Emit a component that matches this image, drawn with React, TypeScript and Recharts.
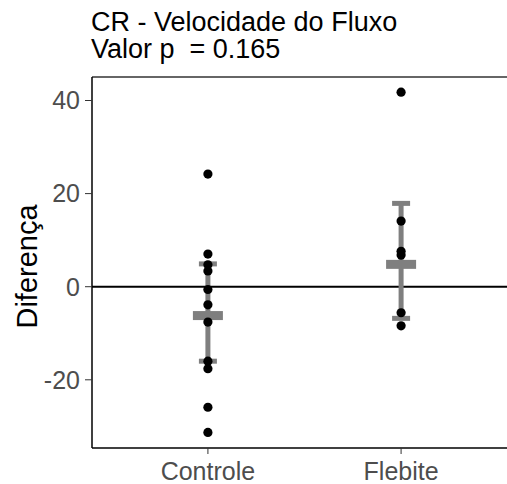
import { ScatterChart, Scatter, XAxis, YAxis, ReferenceLine, ErrorBar } from "recharts";

const categories = ["Controle", "Flebite"];
const controleValues = [24.2, 7.0, 4.7, 3.4, -0.6, -3.9, -7.6, -16.0, -17.6, -25.9, -31.3];
const flebiteValues = [41.8, 14.1, 7.6, 6.8, -5.6, -8.4];
const groupMeans = [-6.2, 4.8];
const ciLower = [-16.0, -6.8];
const ciUpper = [4.9, 17.9];
const yTicks = [-20, 0, 20, 40];
const yDomain = [-34.65, 45.05];
const xDomain = [0.4, 2.6];

const points = [
  ...controleValues.map((v) => ({ x: 1, y: v })),
  ...flebiteValues.map((v) => ({ x: 2, y: v })),
];

const summary = categories.map((_, i) => ({
  x: i + 1,
  y: groupMeans[i],
  err: [groupMeans[i] - ciLower[i], ciUpper[i] - groupMeans[i]],
}));

const FONT = "'Liberation Sans', Arial, sans-serif";
const GREY = "#7f7f7f";

const MeanBar = (props: any) => (
  <rect x={props.cx - 15} y={props.cy - 4.5} width={30} height={9} fill={GREY} />
);

const Dot = (props: any) => <circle cx={props.cx} cy={props.cy} r={4.6} fill="#000" />;

const YTitle = (props: any) => {
  const vb = props.viewBox;
  const cy = vb.y + vb.height / 2 + 4;
  return (
    <text
      x={27}
      y={cy}
      transform={`rotate(-90, 27, ${cy})`}
      textAnchor="middle"
      dominantBaseline="central"
      fontSize={29}
      fill="#000"
      fontFamily={FONT}
    >
      Diferença
    </text>
  );
};

export default function App() {
  return (
    <div
      style={{
        position: "fixed",
        left: 0,
        top: 0,
        width: 507,
        height: 484,
        overflow: "hidden",
        background: "#fff",
        fontFamily: FONT,
      }}
    >
      <div
        style={{
          position: "absolute",
          left: 91,
          top: 9,
          fontSize: 27,
          lineHeight: "27px",
          color: "#000",
          whiteSpace: "pre",
        }}
      >
        {"CR - Velocidade do Fluxo\nValor p  = 0.165"}
      </div>
      <ScatterChart
        width={600}
        height={484}
        margin={{ top: 77, right: 83, bottom: 0, left: 0 }}
        style={{ fontFamily: FONT }}
      >
        <XAxis
          type="number"
          dataKey="x"
          domain={xDomain}
          ticks={[1, 2]}
          tickFormatter={(v: number) => categories[v - 1]}
          height={36}
          tickSize={6}
          tickMargin={8}
          stroke="#333"
          axisLine={{ stroke: "#000", strokeWidth: 1.5 }}
          tick={{ fill: "#4d4d4d", fontSize: 25 }}
          allowDataOverflow
        />
        <YAxis
          type="number"
          dataKey="y"
          domain={yDomain}
          ticks={yTicks}
          width={92}
          tickSize={7}
          tickMargin={5}
          stroke="#333"
          axisLine={{ stroke: "#000", strokeWidth: 1.5 }}
          tick={{ fill: "#4d4d4d", fontSize: 25 }}
          allowDataOverflow
          label={{ content: YTitle }}
        />
        {/* panel top border */}
        <ReferenceLine
          segment={[
            { x: xDomain[0], y: yDomain[1] },
            { x: xDomain[1], y: yDomain[1] },
          ]}
          stroke="#333"
          strokeWidth={1.5}
        />
        <ReferenceLine y={0} stroke="#000" strokeWidth={2} />
        <Scatter data={summary} shape={MeanBar} isAnimationActive={false}>
          <ErrorBar dataKey="err" direction="y" width={9} stroke={GREY} strokeWidth={5} />
        </Scatter>
        <Scatter data={points} shape={Dot} isAnimationActive={false} />
      </ScatterChart>
    </div>
  );
}
